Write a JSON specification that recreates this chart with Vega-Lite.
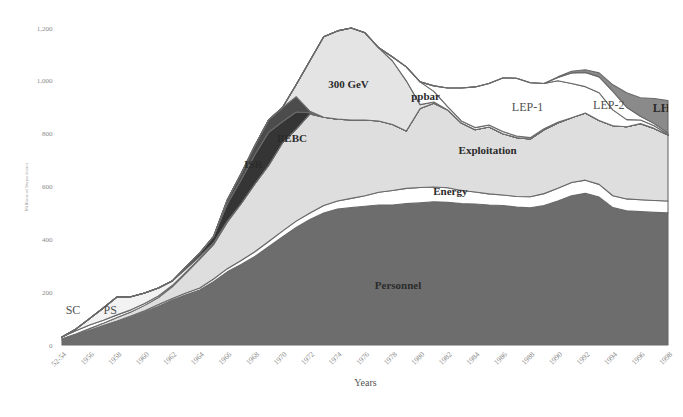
{
  "$schema": "https://vega.github.io/schema/vega-lite/v6.json",
  "width": 606,
  "height": 317,
  "autosize": {"type": "none"},
  "padding": {"left": 62, "top": 28, "right": 15, "bottom": 72},
  "background": "white",
  "config": {
    "view": {"stroke": null},
    "font": "Liberation Serif"
  },
  "datasets": {
    "budget": [
      {"year":1954,"a_Personnel":19,"b_Energy":2,"c_Exploitation":3,"d_SC":6,"e_PS":0,"f_ISR":0,"g_BEBC":0,"h_300GeV":0,"i_ppbar":0,"j_LEP1":0,"k_LEP2":0,"l_LHC":0},
      {"year":1955,"a_Personnel":35,"b_Energy":3,"c_Exploitation":4,"d_SC":12,"e_PS":6,"f_ISR":0,"g_BEBC":0,"h_300GeV":0,"i_ppbar":0,"j_LEP1":0,"k_LEP2":0,"l_LHC":0},
      {"year":1956,"a_Personnel":53,"b_Energy":3,"c_Exploitation":6,"d_SC":14,"e_PS":24,"f_ISR":0,"g_BEBC":0,"h_300GeV":0,"i_ppbar":0,"j_LEP1":0,"k_LEP2":0,"l_LHC":0},
      {"year":1957,"a_Personnel":70,"b_Energy":4,"c_Exploitation":8,"d_SC":12,"e_PS":46,"f_ISR":0,"g_BEBC":0,"h_300GeV":0,"i_ppbar":0,"j_LEP1":0,"k_LEP2":0,"l_LHC":0},
      {"year":1958,"a_Personnel":87,"b_Energy":4,"c_Exploitation":13,"d_SC":10,"e_PS":68,"f_ISR":0,"g_BEBC":0,"h_300GeV":0,"i_ppbar":0,"j_LEP1":0,"k_LEP2":0,"l_LHC":0},
      {"year":1959,"a_Personnel":105,"b_Energy":5,"c_Exploitation":15,"d_SC":8,"e_PS":50,"f_ISR":0,"g_BEBC":0,"h_300GeV":0,"i_ppbar":0,"j_LEP1":0,"k_LEP2":0,"l_LHC":0},
      {"year":1960,"a_Personnel":125,"b_Energy":5,"c_Exploitation":20,"d_SC":7,"e_PS":40,"f_ISR":0,"g_BEBC":0,"h_300GeV":0,"i_ppbar":0,"j_LEP1":0,"k_LEP2":0,"l_LHC":0},
      {"year":1961,"a_Personnel":147,"b_Energy":6,"c_Exploitation":27,"d_SC":6,"e_PS":30,"f_ISR":0,"g_BEBC":0,"h_300GeV":0,"i_ppbar":0,"j_LEP1":0,"k_LEP2":0,"l_LHC":0},
      {"year":1962,"a_Personnel":170,"b_Energy":6,"c_Exploitation":44,"d_SC":5,"e_PS":17,"f_ISR":0,"g_BEBC":0,"h_300GeV":0,"i_ppbar":0,"j_LEP1":0,"k_LEP2":0,"l_LHC":0},
      {"year":1963,"a_Personnel":190,"b_Energy":7,"c_Exploitation":75,"d_SC":4,"e_PS":12,"f_ISR":8,"g_BEBC":0,"h_300GeV":0,"i_ppbar":0,"j_LEP1":0,"k_LEP2":0,"l_LHC":0},
      {"year":1964,"a_Personnel":208,"b_Energy":8,"c_Exploitation":109,"d_SC":3,"e_PS":8,"f_ISR":12,"g_BEBC":0,"h_300GeV":0,"i_ppbar":0,"j_LEP1":0,"k_LEP2":0,"l_LHC":0},
      {"year":1965,"a_Personnel":240,"b_Energy":10,"c_Exploitation":130,"d_SC":2,"e_PS":5,"f_ISR":23,"g_BEBC":0,"h_300GeV":0,"i_ppbar":0,"j_LEP1":0,"k_LEP2":0,"l_LHC":0},
      {"year":1966,"a_Personnel":277,"b_Energy":12,"c_Exploitation":176,"d_SC":1,"e_PS":3,"f_ISR":65,"g_BEBC":15,"h_300GeV":0,"i_ppbar":0,"j_LEP1":0,"k_LEP2":0,"l_LHC":0},
      {"year":1967,"a_Personnel":305,"b_Energy":15,"c_Exploitation":215,"d_SC":0,"e_PS":0,"f_ISR":90,"g_BEBC":23,"h_300GeV":0,"i_ppbar":0,"j_LEP1":0,"k_LEP2":0,"l_LHC":0},
      {"year":1968,"a_Personnel":335,"b_Energy":18,"c_Exploitation":257,"d_SC":0,"e_PS":0,"f_ISR":110,"g_BEBC":34,"h_300GeV":0,"i_ppbar":0,"j_LEP1":0,"k_LEP2":0,"l_LHC":0},
      {"year":1969,"a_Personnel":372,"b_Energy":20,"c_Exploitation":288,"d_SC":0,"e_PS":0,"f_ISR":125,"g_BEBC":47,"h_300GeV":0,"i_ppbar":0,"j_LEP1":0,"k_LEP2":0,"l_LHC":0},
      {"year":1970,"a_Personnel":409,"b_Energy":22,"c_Exploitation":334,"d_SC":0,"e_PS":0,"f_ISR":80,"g_BEBC":53,"h_300GeV":0,"i_ppbar":0,"j_LEP1":0,"k_LEP2":0,"l_LHC":0},
      {"year":1971,"a_Personnel":445,"b_Energy":24,"c_Exploitation":348,"d_SC":0,"e_PS":0,"f_ISR":65,"g_BEBC":58,"h_300GeV":45,"i_ppbar":0,"j_LEP1":0,"k_LEP2":0,"l_LHC":0},
      {"year":1972,"a_Personnel":475,"b_Energy":25,"c_Exploitation":375,"d_SC":0,"e_PS":0,"f_ISR":4,"g_BEBC":6,"h_300GeV":191,"i_ppbar":0,"j_LEP1":0,"k_LEP2":0,"l_LHC":0},
      {"year":1973,"a_Personnel":500,"b_Energy":28,"c_Exploitation":334,"d_SC":0,"e_PS":0,"f_ISR":0,"g_BEBC":0,"h_300GeV":305,"i_ppbar":0,"j_LEP1":0,"k_LEP2":0,"l_LHC":0},
      {"year":1974,"a_Personnel":515,"b_Energy":30,"c_Exploitation":310,"d_SC":0,"e_PS":0,"f_ISR":0,"g_BEBC":0,"h_300GeV":334,"i_ppbar":0,"j_LEP1":0,"k_LEP2":0,"l_LHC":0},
      {"year":1975,"a_Personnel":520,"b_Energy":35,"c_Exploitation":297,"d_SC":0,"e_PS":0,"f_ISR":0,"g_BEBC":0,"h_300GeV":348,"i_ppbar":0,"j_LEP1":0,"k_LEP2":0,"l_LHC":0},
      {"year":1976,"a_Personnel":525,"b_Energy":40,"c_Exploitation":287,"d_SC":0,"e_PS":0,"f_ISR":0,"g_BEBC":0,"h_300GeV":330,"i_ppbar":0,"j_LEP1":0,"k_LEP2":0,"l_LHC":0},
      {"year":1977,"a_Personnel":530,"b_Energy":48,"c_Exploitation":270,"d_SC":0,"e_PS":0,"f_ISR":0,"g_BEBC":0,"h_300GeV":277,"i_ppbar":0,"j_LEP1":0,"k_LEP2":0,"l_LHC":0},
      {"year":1978,"a_Personnel":530,"b_Energy":55,"c_Exploitation":250,"d_SC":0,"e_PS":0,"f_ISR":0,"g_BEBC":0,"h_300GeV":240,"i_ppbar":15,"j_LEP1":0,"k_LEP2":0,"l_LHC":0},
      {"year":1979,"a_Personnel":535,"b_Energy":58,"c_Exploitation":217,"d_SC":0,"e_PS":0,"f_ISR":0,"g_BEBC":0,"h_300GeV":190,"i_ppbar":53,"j_LEP1":0,"k_LEP2":0,"l_LHC":0},
      {"year":1980,"a_Personnel":538,"b_Energy":58,"c_Exploitation":299,"d_SC":0,"e_PS":0,"f_ISR":0,"g_BEBC":0,"h_300GeV":15,"i_ppbar":86,"j_LEP1":0,"k_LEP2":0,"l_LHC":0},
      {"year":1981,"a_Personnel":542,"b_Energy":56,"c_Exploitation":317,"d_SC":0,"e_PS":0,"f_ISR":0,"g_BEBC":0,"h_300GeV":5,"i_ppbar":40,"j_LEP1":21,"k_LEP2":0,"l_LHC":0},
      {"year":1982,"a_Personnel":540,"b_Energy":55,"c_Exploitation":295,"d_SC":0,"e_PS":0,"f_ISR":0,"g_BEBC":0,"h_300GeV":0,"i_ppbar":12,"j_LEP1":71,"k_LEP2":0,"l_LHC":0},
      {"year":1983,"a_Personnel":535,"b_Energy":50,"c_Exploitation":255,"d_SC":0,"e_PS":0,"f_ISR":0,"g_BEBC":0,"h_300GeV":0,"i_ppbar":8,"j_LEP1":125,"k_LEP2":0,"l_LHC":0},
      {"year":1984,"a_Personnel":534,"b_Energy":45,"c_Exploitation":236,"d_SC":0,"e_PS":0,"f_ISR":0,"g_BEBC":0,"h_300GeV":0,"i_ppbar":8,"j_LEP1":154,"k_LEP2":0,"l_LHC":0},
      {"year":1985,"a_Personnel":530,"b_Energy":42,"c_Exploitation":253,"d_SC":0,"e_PS":0,"f_ISR":0,"g_BEBC":0,"h_300GeV":0,"i_ppbar":8,"j_LEP1":157,"k_LEP2":0,"l_LHC":0},
      {"year":1986,"a_Personnel":528,"b_Energy":40,"c_Exploitation":232,"d_SC":0,"e_PS":0,"f_ISR":0,"g_BEBC":0,"h_300GeV":0,"i_ppbar":8,"j_LEP1":203,"k_LEP2":0,"l_LHC":0},
      {"year":1987,"a_Personnel":522,"b_Energy":40,"c_Exploitation":223,"d_SC":0,"e_PS":0,"f_ISR":0,"g_BEBC":0,"h_300GeV":0,"i_ppbar":6,"j_LEP1":219,"k_LEP2":0,"l_LHC":0},
      {"year":1988,"a_Personnel":519,"b_Energy":42,"c_Exploitation":219,"d_SC":0,"e_PS":0,"f_ISR":0,"g_BEBC":0,"h_300GeV":0,"i_ppbar":5,"j_LEP1":208,"k_LEP2":0,"l_LHC":0},
      {"year":1989,"a_Personnel":528,"b_Energy":45,"c_Exploitation":242,"d_SC":0,"e_PS":0,"f_ISR":0,"g_BEBC":0,"h_300GeV":0,"i_ppbar":4,"j_LEP1":171,"k_LEP2":0,"l_LHC":0},
      {"year":1990,"a_Personnel":545,"b_Energy":48,"c_Exploitation":247,"d_SC":0,"e_PS":0,"f_ISR":0,"g_BEBC":0,"h_300GeV":0,"i_ppbar":3,"j_LEP1":157,"k_LEP2":13,"l_LHC":2},
      {"year":1991,"a_Personnel":565,"b_Energy":50,"c_Exploitation":245,"d_SC":0,"e_PS":0,"f_ISR":0,"g_BEBC":0,"h_300GeV":0,"i_ppbar":0,"j_LEP1":130,"k_LEP2":40,"l_LHC":6},
      {"year":1992,"a_Personnel":574,"b_Energy":50,"c_Exploitation":254,"d_SC":0,"e_PS":0,"f_ISR":0,"g_BEBC":0,"h_300GeV":0,"i_ppbar":0,"j_LEP1":100,"k_LEP2":54,"l_LHC":10},
      {"year":1993,"a_Personnel":560,"b_Energy":48,"c_Exploitation":242,"d_SC":0,"e_PS":0,"f_ISR":0,"g_BEBC":0,"h_300GeV":0,"i_ppbar":0,"j_LEP1":105,"k_LEP2":60,"l_LHC":15},
      {"year":1994,"a_Personnel":520,"b_Energy":45,"c_Exploitation":265,"d_SC":0,"e_PS":0,"f_ISR":0,"g_BEBC":0,"h_300GeV":0,"i_ppbar":0,"j_LEP1":60,"k_LEP2":70,"l_LHC":25},
      {"year":1995,"a_Personnel":508,"b_Energy":45,"c_Exploitation":273,"d_SC":0,"e_PS":0,"f_ISR":0,"g_BEBC":0,"h_300GeV":0,"i_ppbar":0,"j_LEP1":27,"k_LEP2":47,"l_LHC":55},
      {"year":1996,"a_Personnel":505,"b_Energy":45,"c_Exploitation":288,"d_SC":0,"e_PS":0,"f_ISR":0,"g_BEBC":0,"h_300GeV":0,"i_ppbar":0,"j_LEP1":14,"k_LEP2":14,"l_LHC":70},
      {"year":1997,"a_Personnel":502,"b_Energy":45,"c_Exploitation":273,"d_SC":0,"e_PS":0,"f_ISR":0,"g_BEBC":0,"h_300GeV":0,"i_ppbar":0,"j_LEP1":10,"k_LEP2":8,"l_LHC":95},
      {"year":1998,"a_Personnel":500,"b_Energy":45,"c_Exploitation":250,"d_SC":0,"e_PS":0,"f_ISR":0,"g_BEBC":0,"h_300GeV":0,"i_ppbar":0,"j_LEP1":3,"k_LEP2":5,"l_LHC":122}
    ],
    "boldLabels": [
      {"label":"Personnel","year":1978.4,"value":223},
      {"label":"Energy","year":1982.2,"value":580},
      {"label":"Exploitation","year":1984.9,"value":735},
      {"label":"300 GeV","year":1974.8,"value":985},
      {"label":"ISR","year":1967.9,"value":682},
      {"label":"BEBC","year":1970.7,"value":780},
      {"label":"ppbar","year":1980.4,"value":940}
    ],
    "plainLabels": [
      {"label":"SC","year":1954.8,"value":133},
      {"label":"PS","year":1957.5,"value":133},
      {"label":"LEP-1","year":1987.8,"value":902},
      {"label":"LEP-2","year":1993.7,"value":909}
    ],
    "edgeLabels": [
      {"label":"LHC","year":1996.9,"value":898}
    ]
  },
  "encoding": {
    "x": {
      "field": "year", "type": "quantitative", "title": "Years",
      "scale": {"domain": [1954, 1998], "nice": false, "zero": false},
      "axis": {
        "values": [1954,1956,1958,1960,1962,1964,1966,1968,1970,1972,1974,1976,1978,1980,1982,1984,1986,1988,1990,1992,1994,1996,1998],
        "labelExpr": "datum.value == 1954 ? '52-54' : format(datum.value, 'd')",
        "labelAngle": -45,
        "labelFontSize": 7.5,
        "labelColor": "#8a8a8a",
        "labelPadding": 5,
        "labelOverlap": false,
        "labelBound": false,
        "labelFlush": false,
        "domain": false,
        "ticks": false,
        "grid": false,
        "titleFontSize": 10,
        "titleColor": "#555555",
        "titleFontWeight": "normal",
        "titlePadding": 10
      }
    },
    "y": {
      "field": "value", "type": "quantitative", "title": "Millions of Swiss francs",
      "scale": {"domain": [0, 1200], "nice": false},
      "axis": {
        "values": [0,200,400,600,800,1000,1200],
        "labelExpr": "format(datum.value, ',')",
        "labelFontSize": 7,
        "labelColor": "#8a8a8a",
        "labelPadding": 10,
        "labelOverlap": false,
        "labelFlush": false,
        "domain": false,
        "ticks": false,
        "grid": false,
        "titleFontSize": 5,
        "titleColor": "#9a9a9a",
        "titleFontWeight": "normal",
        "titlePadding": 8
      }
    }
  },
  "layer": [
    {
      "data": {"name": "budget"},
      "transform": [
        {"fold": ["a_Personnel","b_Energy","c_Exploitation","d_SC","e_PS","f_ISR","g_BEBC","h_300GeV","i_ppbar","j_LEP1","k_LEP2","l_LHC"], "as": ["series","value"]}
      ],
      "mark": {"type": "area", "stroke": "#6a6a6a", "strokeWidth": 1.1, "strokeJoin": "round"},
      "encoding": {
        "color": {
          "field": "series", "type": "nominal",
          "scale": {
            "domain": ["a_Personnel","b_Energy","c_Exploitation","d_SC","e_PS","f_ISR","g_BEBC","h_300GeV","i_ppbar","j_LEP1","k_LEP2","l_LHC"],
            "range": ["#6d6d6d","#ffffff","#dedede","#ffffff","#f2f2f2","#353535","#4c4c4c","#e4e4e4","#ffffff","#ffffff","#ffffff","#8a8a8a"]
          },
          "legend": null
        },
        "order": {"field": "series", "sort": "ascending"}
      }
    },
    {
      "data": {"name": "boldLabels"},
      "mark": {"type": "text", "font": "Liberation Serif", "fontWeight": "bold", "fontSize": 11, "color": "#2b2b2b"},
      "encoding": {"text": {"field": "label"}}
    },
    {
      "data": {"name": "plainLabels"},
      "mark": {"type": "text", "font": "Liberation Serif", "fontSize": 12, "color": "#505050"},
      "encoding": {"text": {"field": "label"}}
    },
    {
      "data": {"name": "edgeLabels"},
      "mark": {"type": "text", "font": "Liberation Serif", "fontWeight": "bold", "fontSize": 12, "color": "#2b2b2b", "align": "left", "clip": true},
      "encoding": {"text": {"field": "label"}}
    }
  ]
}
